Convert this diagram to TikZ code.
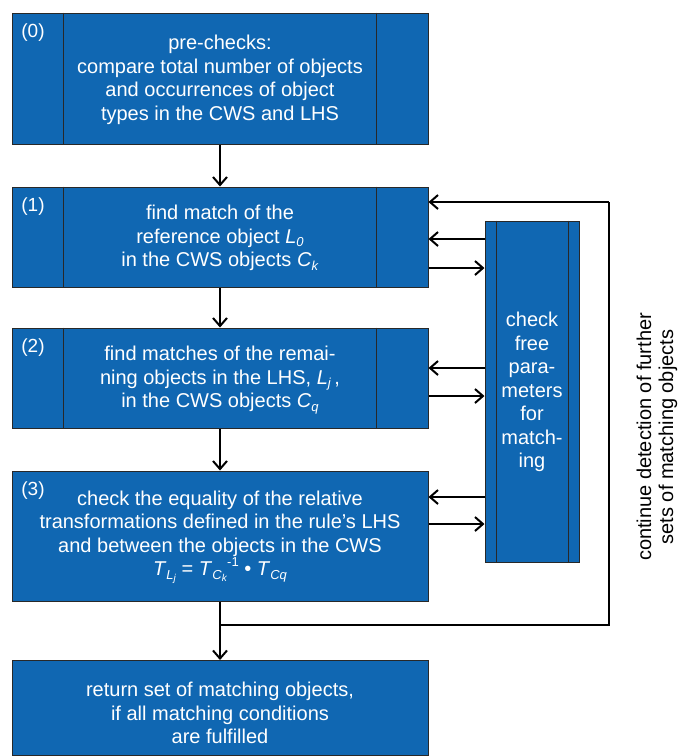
\documentclass[tikz,border=0pt]{standalone}
\usepackage{fontspec}
\setmainfont{Liberation Sans}
\usetikzlibrary{arrows.meta,calc}
\definecolor{boxblue}{RGB}{16,103,178}
\definecolor{boxline}{RGB}{40,40,40}
\newcommand\subA[1]{\raisebox{-0.35ex}{\fontsize{13}{13}\selectfont #1}}
\newcommand\subB[1]{\raisebox{-0.3ex}{\fontsize{10}{10}\selectfont #1}}
\begin{document}
\begin{tikzpicture}[x=1pt,y=-1pt,
  box/.style={draw=boxline,line width=1pt,fill=boxblue,inner sep=0pt,anchor=center},
  txt/.style={text=white,align=center,font=\fontsize{20}{23.5}\selectfont},
  lbl/.style={text=white,font=\fontsize{19}{22}\selectfont,anchor=center},
  inner/.style={draw=boxline,line width=1pt},
  arr/.style={draw=black,line width=2pt,-{Straight Barb[length=8pt,width=14pt,line width=2pt]}},
  ln/.style={draw=black,line width=2pt}]
\useasboundingbox (0,0) rectangle (680,756);
% boxes
\node[box,minimum width=416pt,minimum height=131pt] (b0) at (220,78.5) {};
\node[box,minimum width=416pt,minimum height=100pt] (b1) at (220,237) {};
\node[box,minimum width=416pt,minimum height=100pt] (b2) at (220,378) {};
\node[box,minimum width=416pt,minimum height=130pt] (b3) at (220,536) {};
\node[box,minimum width=416pt,minimum height=95pt] (b4) at (220,708) {};
\node[box,minimum width=94pt,minimum height=341pt] (chk) at (532,391.5) {};
% inner lines
\foreach \b in {b0,b1,b2}{
  \draw[inner] ([xshift=52pt]\b.north west) -- ([xshift=52pt]\b.south west);
  \draw[inner] ([xshift=-52pt]\b.north east) -- ([xshift=-52pt]\b.south east);
}
\draw[inner] ([xshift=12pt]chk.north west) -- ([xshift=12pt]chk.south west);
\draw[inner] ([xshift=-11pt]chk.north east) -- ([xshift=-11pt]chk.south east);
% labels
\node[lbl] (l0) at (33,33) {(0)};
\node[lbl] (l1) at (33,207) {(1)};
\node[lbl] (l2) at (33,348) {(2)};
\node[lbl] (l3) at (33,491) {(3)};
% texts
\node[txt] (t0) at (220,80) {pre-checks:\\compare total number of objects\\and occurrences of object\\types in the CWS and LHS};
\node[txt] (t1) at (220,238) {find match of the\\reference object \textit{L}\subA{\textit{0}}\\in the CWS objects \textit{C}\subA{\textit{k}}};
\node[txt] (t2) at (220,380) {find matches of the remai-\\ning objects in the LHS, \textit{L}\subA{\textit{j}}\,,\\in the CWS objects \textit{C}\subA{\textit{q}}};
\node[txt] (t3) at (220,537) {check the equality of the relative\\transformations defined in the rule's LHS\\and between the objects in the CWS\\\textit{T}\subA{\textit{L}\subB{\textit{j}}} = \textit{T}\subA{\textit{C}\subB{\textit{k}}}\raisebox{0.9ex}{\fontsize{13}{13}\selectfont -1} \textbullet{} \textit{T}\subA{\textit{Cq}}};
\node[txt] (t4) at (220,713) {return set of matching objects,\\if all matching conditions\\are fulfilled};
\node[txt] (tc) at (532,392) {check\\free\\para-\\meters\\for\\match-\\ing};
\node[align=center,rotate=90,font=\fontsize{20}{22}\selectfont] (side) at (657,437) {continue detection of further\\sets of matching objects};
% main flow
\draw[arr] (b0) -- (b1);
\draw[arr] (b1) -- (b2);
\draw[arr] (b2) -- (b3);
\draw[arr] (b3) -- (b4);
% loop back
\coordinate (j) at (220,625);
\coordinate (r1) at (609,625);
\coordinate (r2) at (609,202);
\draw[ln] (j) -- (r1) -- (r2);
\draw[arr] (r2) -- (b1.east |- r2);
% check arrows
\draw[arr] (chk.west |- 0,239) -- (b1.east |- 0,239);
\draw[arr] (b1.east |- 0,268) -- (chk.west |- 0,268);
\draw[arr] (chk.west |- 0,368) -- (b2.east |- 0,368);
\draw[arr] (b2.east |- 0,396) -- (chk.west |- 0,396);
\draw[arr] (chk.west |- 0,497) -- (b3.east |- 0,497);
\draw[arr] (b3.east |- 0,524) -- (chk.west |- 0,524);
\end{tikzpicture}
\end{document}
